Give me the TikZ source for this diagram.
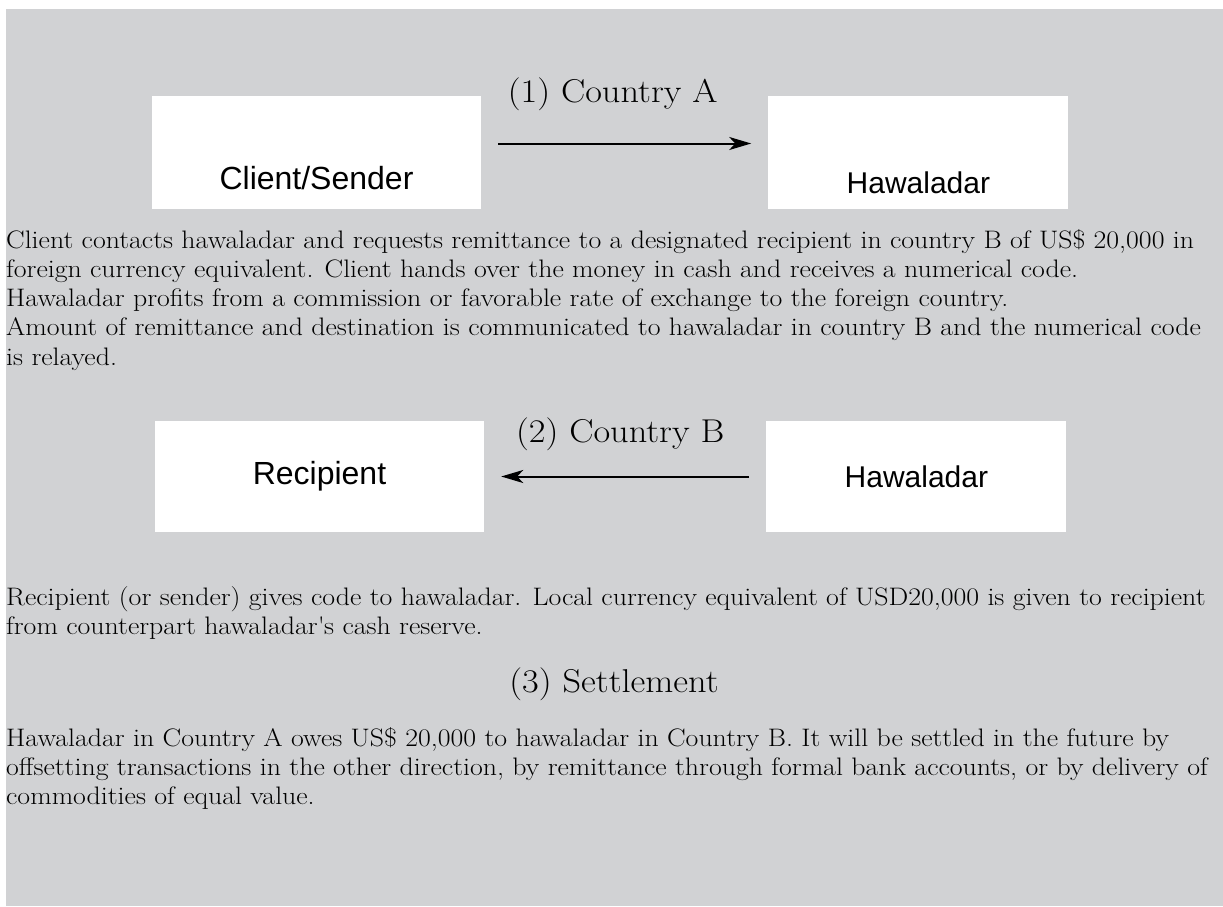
\documentclass[tikz,border=0pt]{standalone}
\usepackage{fontspec}
\setmainfont{Latin Modern Roman}[FakeStretch=1.1]
\setsansfont{Liberation Sans}
\usetikzlibrary{arrows.meta,positioning}
\definecolor{panelgray}{RGB}{209,210,212}

\begin{document}
\begin{tikzpicture}[x=1pt, y=-1pt, >={Stealth[length=22pt, width=13pt, inset=6pt]}, auto,
	box/.style={fill=white, inner sep=0pt, font=\sffamily\fontsize{30}{30}\selectfont},
	big/.style={font=\sffamily\fontsize{32}{32}\selectfont},
	para/.style={anchor=base west, align=left, inner sep=0pt, font=\fontsize{25.3}{29}\selectfont},
	step label/.style={anchor=base, inner sep=0pt, font=\fontsize{33}{38}\selectfont},
	flow/.style={->, line width=2pt, shorten >=17pt, shorten <=17pt}]
	% Background
	\useasboundingbox (0,0) rectangle (1223,907);
	\fill [panelgray] (6,9) rectangle (1223,906);

	% Nodes {client, hawA, recip, hawB}
	\node [box, big, minimum width=329pt, minimum height=113pt, text height=73pt, text depth=0pt] (client) at (316.5,152.5) {Client/Sender};
	\node [box, minimum width=300pt, minimum height=113pt, text height=81pt, text depth=0pt] (hawA) [right=287pt of client] {Hawaladar};
	\node [box, big, minimum width=329pt, minimum height=111pt] (recip) at (319.5,476.5) {Recipient};
	\node [box, minimum width=300pt, minimum height=111pt] (hawB) [right=282pt of recip] {Hawaladar};

	% Paths
	\path [flow] ([yshift=9pt]client.east) edge node [step label, yshift=41pt, xshift=-12pt] {(1) Country A} ([yshift=9pt]hawA.west);
	\path [flow] (hawB.west) edge node [step label, yshift=34pt, xshift=-5pt] {(2) Country B} (recip.east);

	% Texts (anchored at the baseline of their last line)
	\node [para] (textA) at (6,365) {Client contacts hawaladar and requests remittance to a designated recipient in country B of US\$ 20,000 in\\
		foreign currency equivalent.  Client hands over the money in cash and receives a numerical code.\\
		Hawaladar profits from a commission or favorable rate of exchange to the foreign country.\\
		Amount of remittance and destination is communicated to hawaladar in country B and the numerical code\\[1pt]
		is relayed.};
	\node [para] (textB) at (6,634) {Recipient (or sender) gives code to hawaladar.  Local currency equivalent of USD20,000 is given to recipient\\
		from counterpart hawaladar{\textquotesingle}s cash reserve.};
	\node [step label] (settle) at (614,692) {(3) Settlement};
	\node [para] (textC) at (6,804) {Hawaladar in Country A owes US\$ 20,000 to hawaladar in Country B.  It will be settled in the future by\\
		offsetting transactions in the other direction, by remittance through formal bank accounts, or by delivery of\\
		commodities of equal value.};
\end{tikzpicture}
\end{document}
